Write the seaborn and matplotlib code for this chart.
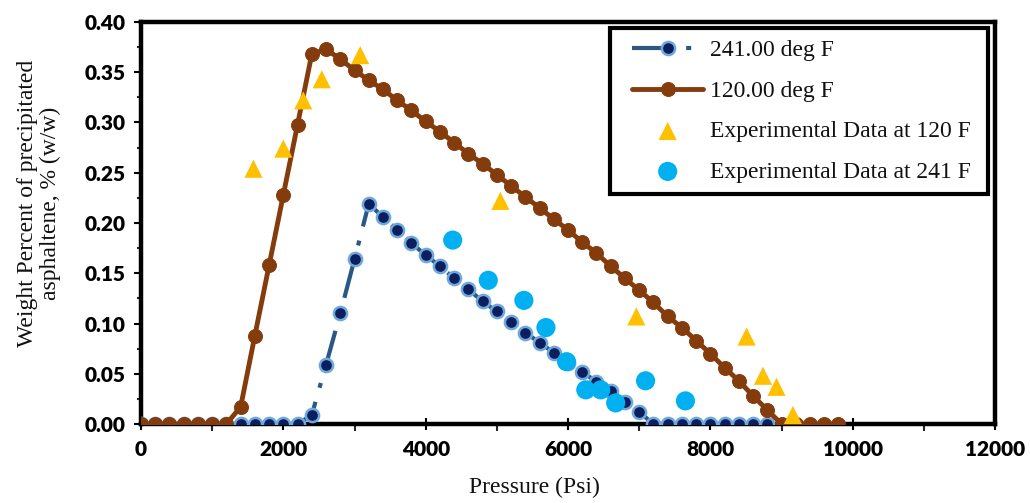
import matplotlib
matplotlib.use("Agg")
import matplotlib.pyplot as plt
from matplotlib.ticker import MultipleLocator, FormatStrFormatter
from matplotlib.legend_handler import HandlerLine2D, HandlerPathCollection
from matplotlib.lines import Line2D
from matplotlib.collections import PathCollection
import seaborn as sns
import pandas as pd

# ---------------- data ----------------
pressure_120 = [0, 200, 400, 600, 800, 1000, 1200, 1400, 1600, 1800,
                2000, 2200, 2400, 2600, 2800, 3000, 3200, 3400, 3600, 3800,
                4000, 4200, 4400, 4600, 4800, 5000, 5200, 5400, 5600, 5800,
                6000, 6200, 6400, 6600, 6800, 7000, 7200, 7400, 7600, 7800,
                8000, 8200, 8400, 8600, 8800, 9000, 9200, 9400, 9600, 9800]
model_120 = [0, 0, 0, 0, 0, 0, 0, 0.017, 0.088, 0.158,
             0.228, 0.298, 0.368, 0.373, 0.363, 0.352, 0.342, 0.333, 0.322, 0.312,
             0.301, 0.291, 0.280, 0.269, 0.259, 0.248, 0.237, 0.226, 0.215, 0.204,
             0.193, 0.181, 0.170, 0.157, 0.145, 0.133, 0.121, 0.107, 0.096, 0.083,
             0.070, 0.056, 0.043, 0.028, 0.014, 0, 0, 0, 0, 0]

pressure_241 = [0, 200, 400, 600, 800, 1000, 1200, 1400, 1600, 1800,
                2000, 2200, 2400, 2600, 2800, 3000, 3200, 3400, 3600, 3800,
                4000, 4200, 4400, 4600, 4800, 5000, 5200, 5400, 5600, 5800,
                6000, 6200, 6400, 6600, 6800, 7000, 7200, 7400, 7600, 7800,
                8000, 8200, 8400, 8600, 8800]
model_241 = [0, 0, 0, 0, 0, 0, 0, 0, 0, 0,
             0, 0, 0.009, 0.059, 0.110, 0.164, 0.219, 0.206, 0.193, 0.180,
             0.168, 0.157, 0.145, 0.134, 0.122, 0.112, 0.101, 0.091, 0.081, 0.071,
             0.061, 0.052, 0.042, 0.033, 0.022, 0.012, 0, 0, 0, 0,
             0, 0, 0, 0, 0]

exp_p_120 = [1580, 2000, 2280, 2540, 3080, 5050, 6960, 8510, 8740, 8930, 9160]
exp_v_120 = [0.254, 0.274, 0.322, 0.343, 0.367, 0.222, 0.107, 0.087, 0.048, 0.037, 0.009]

exp_p_241 = [4380, 4880, 5380, 5690, 5980, 6250, 6460, 6670, 7090, 7650]
exp_v_241 = [0.183, 0.143, 0.123, 0.096, 0.062, 0.034, 0.034, 0.021, 0.043, 0.023]

labels = ["241.00 deg F", "120.00 deg F",
          "Experimental Data at 120 F", "Experimental Data at 241 F"]
x_ticks = [0, 2000, 4000, 6000, 8000, 10000, 12000]

# ---------------- styling ----------------
sns.set_theme(style="white")
plt.rcParams["font.family"] = ["Liberation Serif", "DejaVu Serif"]

fig = plt.figure(figsize=(10.30, 5.03), dpi=100)
ax = fig.add_axes([141 / 1030, 1 - 424 / 503, (995 - 141) / 1030, (424 - 22) / 503])

df241 = pd.DataFrame({"P": pressure_241, "W": model_241})
df120 = pd.DataFrame({"P": pressure_120, "W": model_120})
dfe120 = pd.DataFrame({"P": exp_p_120, "W": exp_v_120})
dfe241 = pd.DataFrame({"P": exp_p_241, "W": exp_v_241})

sns.lineplot(data=df241, x="P", y="W", ax=ax, color="#2A5783", lw=3.0,
             linestyle=(0, (9.5, 3.5, 1.2, 3.5)), marker="o", markersize=9.5,
             markerfacecolor="#0B1F5E", markeredgecolor="#6FA8DC",
             markeredgewidth=1.8, errorbar=None, label=labels[0], zorder=3)
sns.lineplot(data=df120, x="P", y="W", ax=ax, color="#843C0C", lw=3.5,
             marker="o", markersize=10, markerfacecolor="#843C0C",
             markeredgecolor="#843C0C", errorbar=None, label=labels[1], zorder=4)
sns.scatterplot(data=dfe120, x="P", y="W", ax=ax, marker="^", s=170,
                color="#FFC000", edgecolor="none", linewidth=0,
                label=labels[2], zorder=5)
sns.scatterplot(data=dfe241, x="P", y="W", ax=ax, marker="o", s=190,
                color="#00B0F0", edgecolor="none", linewidth=0,
                label=labels[3], zorder=6)

ax.set_xlim(0, 12000)
ax.set_ylim(0, 0.40)
ax.set_xticks(x_ticks)
ax.xaxis.set_minor_locator(MultipleLocator(1000))
ax.yaxis.set_major_locator(MultipleLocator(0.05))
ax.yaxis.set_minor_locator(MultipleLocator(0.025))
ax.yaxis.set_major_formatter(FormatStrFormatter("%.2f"))
ax.set_xlabel("")
ax.set_ylabel("")

for sp in ax.spines.values():
    sp.set_visible(True)
    sp.set_color("black")
    sp.set_linewidth(3.2)

ax.tick_params(axis="x", which="major", direction="inout", length=9, width=1.5,
               pad=7, bottom=True, top=False, colors="black")
ax.tick_params(axis="x", which="minor", direction="out", length=5, width=1.5,
               bottom=True, top=False)
ax.tick_params(axis="y", which="major", direction="out", length=5, width=1.5,
               pad=6, left=True, right=False, colors="black")
ax.tick_params(axis="y", which="minor", direction="out", length=3, width=1.5,
               left=True, right=False)

tick_font = ["Liberation Sans Narrow", "Lato", "DejaVu Sans"]
for t in ax.get_xticklabels() + ax.get_yticklabels():
    t.set_fontfamily(tick_font)
    t.set_fontweight("heavy")
    t.set_fontsize(15)
    t.set_color("black")

fig.text(534 / 1030, 1 - 487 / 503, "Pressure (Psi)", ha="center", va="center",
         fontsize=17, color="#111111")
fig.text(39 / 1030, 1 - 203 / 503,
         "Weight Percent of precipitated\nasphaltene, % (w/w)",
         ha="center", va="center", rotation=90, multialignment="center",
         fontsize=17, color="#111111", linespacing=1.15)

handles, labs = ax.get_legend_handles_labels()
order = [labs.index(l) for l in labels]
hmap = {Line2D: HandlerLine2D(xpad=0.45),
        PathCollection: HandlerPathCollection(xpad=0.45)}
leg = ax.legend([handles[i] for i in order], [labs[i] for i in order],
                loc="upper left", bbox_to_anchor=(0.549, 0.985, 0.443, 0.0),
                mode="expand", borderaxespad=0, frameon=True, fancybox=False,
                framealpha=1, edgecolor="black", fontsize=17,
                handlelength=3.45, handletextpad=0.3, labelspacing=0.8,
                borderpad=0.5, handler_map=hmap)
leg.get_frame().set_linewidth(3.0)
for t in leg.get_texts():
    t.set_color("#111111")

fig.savefig("out.png", dpi=100)
